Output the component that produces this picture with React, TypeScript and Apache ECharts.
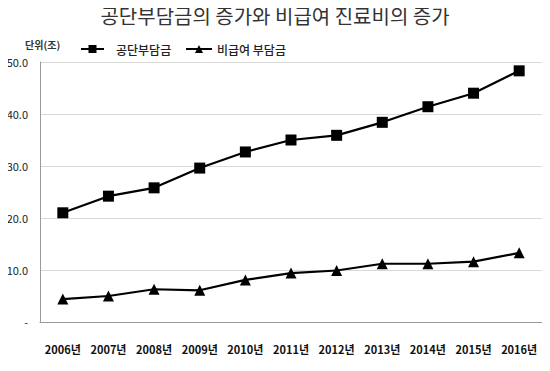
import React, { useEffect, useRef } from "react";
import * as echarts from "echarts";

const years = ["2006년", "2007년", "2008년", "2009년", "2010년", "2011년", "2012년", "2013년", "2014년", "2015년", "2016년"];
const gongdan = [21.0, 24.2, 25.8, 29.6, 32.7, 35.0, 35.9, 38.4, 41.4, 44.0, 48.3];
const bigeup = [4.4, 5.0, 6.3, 6.1, 8.1, 9.4, 9.9, 11.2, 11.2, 11.6, 13.3];
const FONT = "'Noto Sans CJK KR', 'Noto Sans', sans-serif";

export default function App() {
  const ref = useRef<HTMLDivElement>(null);
  useEffect(() => {
    const chart = echarts.init(ref.current!, undefined, { renderer: "svg" });
    const legendText = { fontFamily: FONT, fontSize: 12, fontWeight: 500, color: "#222" };
    chart.setOption({
      animation: false,
      backgroundColor: "#ffffff",
      title: {
        text: "공단부담금의 증가와 비급여 진료비의 증가",
        left: "center",
        top: 0,
        textStyle: { fontFamily: FONT, fontSize: 20, fontWeight: "normal", color: "#333" },
      },
      graphic: [
        {
          type: "text",
          left: 25,
          top: 39,
          style: { text: "단위(조)", font: `bold 10px ${FONT}`, fill: "#333" },
        },
      ],
      legend: [
        {
          left: 80,
          top: 43,
          padding: 0,
          itemWidth: 23,
          itemHeight: 10,
          textStyle: { ...legendText, padding: [8, 0, 0, 7] },
          data: ["공단부담금"],
        },
        {
          left: 185,
          top: 43,
          padding: 0,
          itemWidth: 26,
          itemHeight: 10,
          textStyle: { ...legendText, padding: [8, 0, 0, 0] },
          data: ["비급여 부담금"],
        },
      ],
      grid: { left: 40, right: 8, top: 62, bottom: 49 },
      xAxis: {
        type: "category",
        data: years,
        boundaryGap: true,
        axisLine: { lineStyle: { color: "#9a9a9a", width: 1 } },
        axisTick: { show: false },
        axisLabel: { margin: 21, fontFamily: FONT, fontSize: 11, fontWeight: "bold", color: "#111", interval: 0 },
      },
      yAxis: {
        type: "value",
        min: 0,
        max: 50,
        interval: 10,
        axisLine: { show: true, lineStyle: { color: "#9a9a9a", width: 1 } },
        axisTick: { show: false },
        splitLine: { lineStyle: { color: "#d9d9d9", width: 1 } },
        axisLabel: {
          margin: 12,
          fontFamily: FONT,
          fontSize: 11,
          color: "#222",
          formatter: (v: number) => (v === 0 ? "-" : v.toFixed(1)),
        },
      },
      series: [
        {
          name: "공단부담금",
          type: "line",
          data: gongdan,
          symbol: "rect",
          symbolSize: 11,
          lineStyle: { color: "#000", width: 2.2 },
          itemStyle: { color: "#000" },
        },
        {
          name: "비급여 부담금",
          type: "line",
          data: bigeup,
          symbol: "triangle",
          symbolSize: 11,
          lineStyle: { color: "#000", width: 2.2 },
          itemStyle: { color: "#000" },
        },
      ],
    });
    return () => chart.dispose();
  }, []);
  return <div ref={ref} style={{ width: 550, height: 371, margin: -8 }} />;
}
